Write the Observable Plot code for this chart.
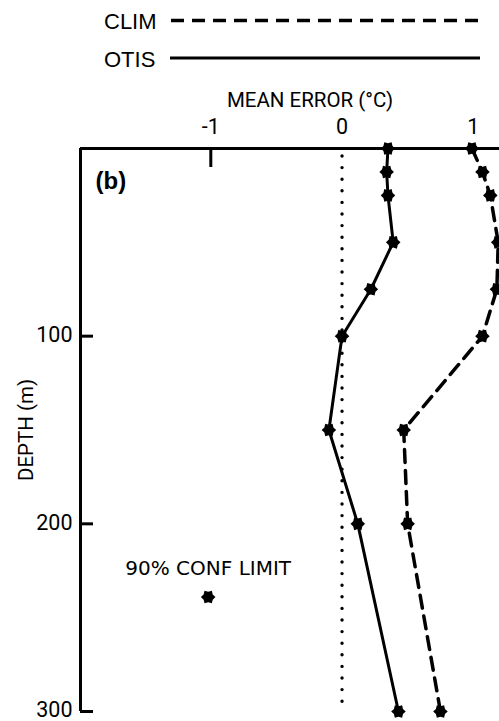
<!DOCTYPE html>
<html>
<head>
<meta charset="utf-8">
<script src="https://cdn.jsdelivr.net/npm/d3@7"></script>
<script src="https://cdn.jsdelivr.net/npm/@observablehq/plot@0.6"></script>
<style>
  html, body { margin: 0; padding: 0; background: #fff; }
  #legend { display: block; }
  #chart svg { display: block; }
</style>
</head>
<body>
<div id="legend"></div>
<div id="chart"></div>
<script>
// ---- data ----
const depths = [0, 12.5, 25, 50, 75, 100, 150, 200, 300];            // m
const otis   = [0.35, 0.34, 0.35, 0.39, 0.22, 0.00, -0.10, 0.12, 0.43]; // °C
const clim   = [0.99, 1.07, 1.13, 1.19, 1.18, 1.07, 0.47, 0.50, 0.75];  // °C
const seriesNames = ["CLIM", "OTIS"];
const xTicks = [-1, 0, 1];
const xTickMarks = [-1];
const yTicks = [100, 200, 300];
const confLimitX = [-1.02];
const confLimitDepth = [239];
const confLimitLabelDepth = [227];
const confLimitLabel = ["90% CONF LIMIT"];
const panelLabel = ["(b)"];
const xLabel = ["MEAN ERROR (°C)"];
const yLabel = ["DEPTH (m)"];

// ---- layout / style ----
const W = 499, LEGEND_H = 76, H = 721 - LEGEND_H;
const mTop = 144 - LEGEND_H, mBottom = 14, mLeft = 80, mRight = 0;
const axisFont = "Roboto, 'Liberation Sans', sans-serif";
const dashStyle = {CLIM: "13,8", OTIS: null};
const widthStyle = {CLIM: 3.5, OTIS: 3};
const yDomain = [0, 300];
const xDomain = [-1.993, 1.2];

const rows = [];
depths.forEach((d, i) => {
  rows.push({series: "CLIM", depth: d, value: clim[i]});
  rows.push({series: "OTIS", depth: d, value: otis[i]});
});
const bySeries = s => rows.filter(r => r.series === s);

// six-pointed star marker
const starSymbol = {
  draw(context, size) {
    const R = Math.sqrt(size / Math.PI) * 1.12, r = R * 0.72;
    for (let i = 0; i < 12; i++) {
      const a = i * Math.PI / 6;
      const rr = i % 2 ? r : R;
      const x = rr * Math.cos(a), y = rr * Math.sin(a);
      if (i) context.lineTo(x, y); else context.moveTo(x, y);
    }
    context.closePath();
  }
};

// ---- legend (above the plot) ----
const lg = d3.select("#legend").append("svg")
  .attr("width", W).attr("height", LEGEND_H);
const rowY = i => 20.5 + i * 37.5;
const g = lg.selectAll("g").data(seriesNames).join("g")
  .attr("transform", (d, i) => `translate(0,${rowY(i)})`);
g.append("text")
  .attr("x", 104).attr("y", 8.5)
  .attr("font-family", "'Liberation Sans', Arial, sans-serif")
  .attr("font-size", 22)
  .text(d => d);
g.append("line")
  .attr("x1", (d, i) => 171 - i).attr("x2", 480)
  .attr("stroke", "black")
  .attr("stroke-width", d => widthStyle[d])
  .attr("stroke-dasharray", d => dashStyle[d]);

// ---- plot ----
const plotW = W - mLeft - mRight, plotH = H - mTop - mBottom;
const fmt = d => (d < 0 ? "-" : "") + Math.abs(d);

const chart = Plot.plot({
  width: W, height: H,
  marginTop: mTop, marginBottom: mBottom, marginLeft: mLeft, marginRight: mRight,
  style: {fontFamily: axisFont, fontSize: "21px", background: "white", color: "black"},
  x: {domain: xDomain},
  y: {domain: yDomain, reverse: true},
  marks: [
    // dotted zero line
    Plot.ruleX([0], {stroke: "black", strokeWidth: 3.4, strokeDasharray: "0,11.6",
      strokeLinecap: "round", insetTop: 8, insetBottom: 2}),
    // axis lines
    Plot.ruleY([yDomain[0]], {stroke: "black", strokeWidth: 3}),
    Plot.ruleX([xDomain[0]], {stroke: "black", strokeWidth: 3}),
    // inward ticks
    Plot.tickY(yTicks, {y: d => d, stroke: "black", strokeWidth: 3, insetRight: plotW - 13}),
    Plot.tickX(xTickMarks, {x: d => d, stroke: "black", strokeWidth: 3, insetBottom: plotH - 19}),
    // tick labels
    Plot.axisX({anchor: "top", ticks: xTicks, tickFormat: fmt, tickSize: 0, tickPadding: 15,
      label: null, fontSize: 21.5, fontFamily: axisFont}),
    Plot.axisY({anchor: "left", ticks: yTicks, tickFormat: fmt, tickSize: 0, tickPadding: 8,
      label: null, fontSize: 21.5, fontFamily: axisFont, dy: -1}),
    // axis titles
    Plot.text(xLabel, {text: d => d, frameAnchor: "top", dx: 20, dy: -42,
      lineAnchor: "bottom", fontSize: 20.5, fontFamily: axisFont}),
    Plot.text(yLabel, {text: d => d, x: () => xDomain[0], y: () => (yDomain[0] + yDomain[1]) / 2,
      dx: -48, rotate: -90, textAnchor: "middle",
      lineAnchor: "bottom", fontSize: 20.5, fontFamily: axisFont}),
    // panel label
    Plot.text(panelLabel, {text: d => d, frameAnchor: "top-left", textAnchor: "start",
      dx: 15, dy: 40, lineAnchor: "bottom", fontWeight: "bold", fontSize: 24,
      fontFamily: "'Liberation Sans', Arial, sans-serif"}),
    // series lines
    ...seriesNames.map(s => Plot.line(bySeries(s), {x: "value", y: "depth",
      stroke: "black", strokeWidth: widthStyle[s], strokeDasharray: dashStyle[s]})),
    // markers
    Plot.dot(rows, {x: "value", y: "depth", symbol: starSymbol, r: 6.5, fill: "black", stroke: "none"}),
    // 90% confidence limit
    Plot.dot(confLimitX.map((x, i) => ({x, y: confLimitDepth[i]})),
      {x: "x", y: "y", symbol: starSymbol, r: 6.5, fill: "black", stroke: "none"}),
    Plot.text(confLimitX.map((x, i) => ({x, y: confLimitLabelDepth[i], t: confLimitLabel[i]})),
      {x: "x", y: "y", text: "t", lineAnchor: "bottom", fontSize: 20,
       fontFamily: "'DejaVu Sans', sans-serif"})
  ]
});
document.getElementById("chart").appendChild(chart);
</script>
</body>
</html>
